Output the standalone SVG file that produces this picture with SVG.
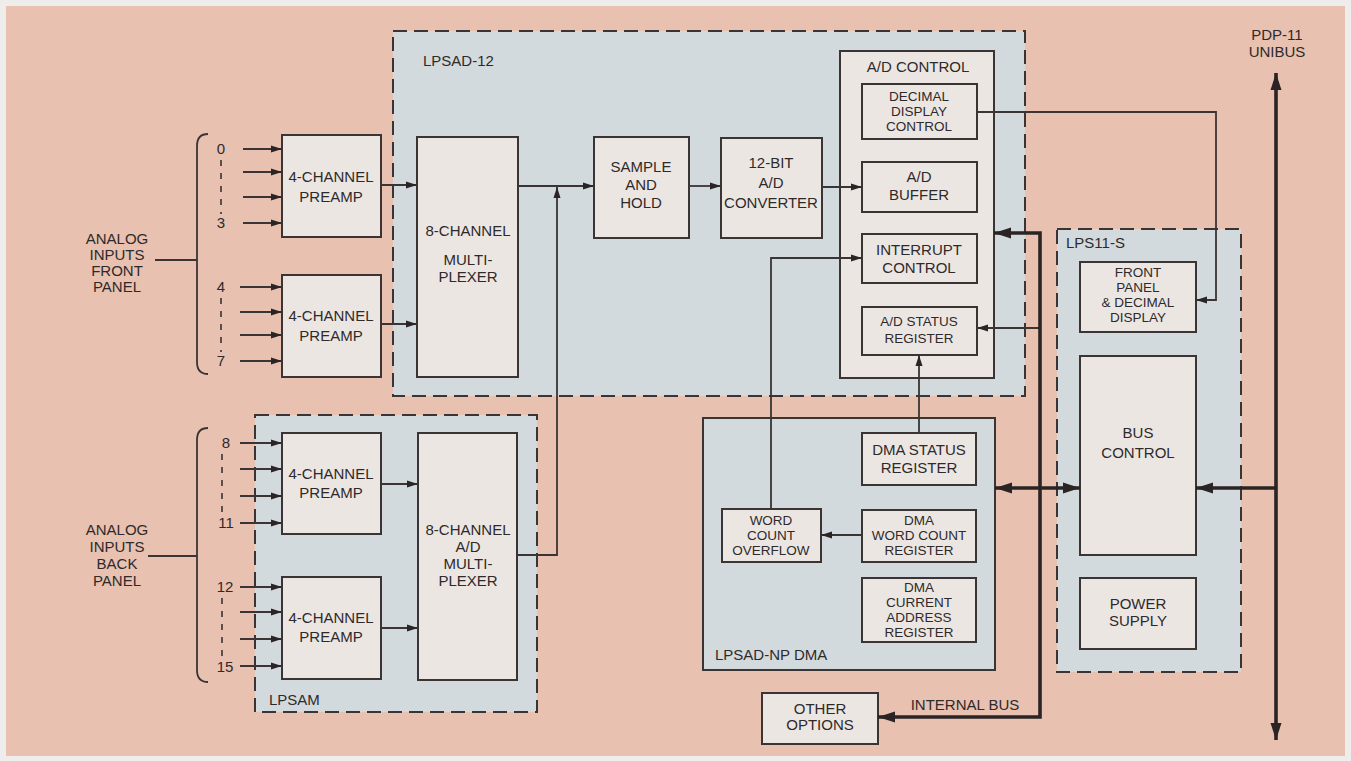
<svg xmlns="http://www.w3.org/2000/svg" width="1351" height="761" viewBox="0 0 1351 761">
<style>
text{font-family:"Liberation Sans",Arial,sans-serif;font-size:15px;fill:#2e2a2a;text-anchor:middle}
.l{text-anchor:start}
.s{font-size:13.5px}
.box{fill:#ece6e3;stroke:#3a3434;stroke-width:2}
.region{fill:#d3dadd;stroke:#3a3434;stroke-width:2;stroke-dasharray:14 7}
.solid{fill:#d3dadd;stroke:#3a3434;stroke-width:2}
.w{fill:none;stroke:#3a3434;stroke-width:1.8}
.t{fill:none;stroke:#2a2424;stroke-width:3.6}
.dl{fill:none;stroke:#3a3434;stroke-width:1.6;stroke-dasharray:6 7}
</style>
<defs>
<marker id="a" markerUnits="userSpaceOnUse" markerWidth="12" markerHeight="8" refX="11" refY="4" orient="auto-start-reverse"><path d="M0,0.5 L11,4 L0,7.5 z" fill="#2a2424"/></marker>
<marker id="b" markerUnits="userSpaceOnUse" markerWidth="18" markerHeight="12" refX="17" refY="6" orient="auto-start-reverse"><path d="M0,0.5 L17,6 L0,11.5 z" fill="#2a2424"/></marker>
</defs>
<rect x="0" y="0" width="1351" height="761" fill="#efedeb"/>
<rect x="6" y="6" width="1339" height="750" fill="#e8c1b1"/>

<g id="regions">
<rect id="lpsad12" class="region" x="393" y="31" width="632" height="365"/>
<rect id="lpsam" class="region" x="255" y="415" width="282" height="297"/>
<rect id="lps11s" class="region" x="1057" y="229" width="184" height="443"/>
<rect id="dma" class="solid" x="703" y="418" width="292" height="252"/>
<text class="l" x="423" y="66">LPSAD-12</text>
<text class="l" x="269" y="705">LPSAM</text>
<text class="l" x="1066" y="248">LPS11-S</text>
<text class="l" x="715" y="660">LPSAD-NP  DMA</text>
</g>

<g id="front-inputs">
<path class="w" d="M208,134 Q197,134 197,146 L197,362 Q197,374 208,374"/>
<line class="w" x1="155" y1="260" x2="197" y2="260"/>
<text x="117" y="244">ANALOG</text>
<text x="117" y="260">INPUTS</text>
<text x="117" y="276">FRONT</text>
<text x="117" y="292">PANEL</text>
<text x="221" y="154">0</text>
<text x="221" y="228">3</text>
<text x="221" y="292">4</text>
<text x="221" y="366">7</text>
<line class="dl" x1="221" y1="160" x2="221" y2="214"/>
<line class="dl" x1="221" y1="298" x2="221" y2="352"/>
</g>

<g id="back-inputs">
<path class="w" d="M208,428 Q197,428 197,440 L197,670 Q197,682 208,682"/>
<line class="w" x1="148" y1="556" x2="197" y2="556"/>
<text x="117" y="535">ANALOG</text>
<text x="117" y="552">INPUTS</text>
<text x="117" y="569">BACK</text>
<text x="117" y="586">PANEL</text>
<text x="226" y="448">8</text>
<text x="226" y="528">11</text>
<text x="225" y="592">12</text>
<text x="225" y="672">15</text>
<line class="dl" x1="222" y1="454" x2="222" y2="514"/>
<line class="dl" x1="222" y1="598" x2="222" y2="658"/>
</g>

<g id="preamp1"><rect class="box" x="282" y="135" width="99" height="102"/><text x="331" y="182">4-CHANNEL</text><text x="331" y="202">PREAMP</text></g>
<g id="preamp2"><rect class="box" x="282" y="275" width="99" height="102"/><text x="331" y="321">4-CHANNEL</text><text x="331" y="341">PREAMP</text></g>
<g id="preamp3"><rect class="box" x="282" y="433" width="99" height="101"/><text x="331" y="479">4-CHANNEL</text><text x="331" y="498">PREAMP</text></g>
<g id="preamp4"><rect class="box" x="282" y="577" width="99" height="102"/><text x="331" y="623">4-CHANNEL</text><text x="331" y="642">PREAMP</text></g>
<g id="mux8"><rect class="box" x="417" y="137" width="101" height="240"/><text x="468" y="236">8-CHANNEL</text><text x="468" y="265">MULTI-</text><text x="468" y="282">PLEXER</text></g>
<g id="mux8ad"><rect class="box" x="418" y="433" width="99" height="247"/><text x="468" y="535">8-CHANNEL</text><text x="468" y="552">A/D</text><text x="468" y="569">MULTI-</text><text x="468" y="586">PLEXER</text></g>
<g id="samplehold"><rect class="box" x="594" y="137" width="95" height="101"/><text x="641" y="172">SAMPLE</text><text x="641" y="190">AND</text><text x="641" y="208">HOLD</text></g>
<g id="converter"><rect class="box" x="721" y="138" width="101" height="100"/><text x="771" y="168">12-BIT</text><text x="771" y="188">A/D</text><text x="771" y="208">CONVERTER</text></g>
<g id="adcontrol"><rect class="box" x="840" y="51" width="154" height="327"/><text x="918" y="72">A/D  CONTROL</text></g>
<g id="ddc"><rect class="box" x="862" y="84" width="115" height="55"/><text class="s" x="919" y="101">DECIMAL</text><text class="s" x="919" y="116">DISPLAY</text><text class="s" x="919" y="131">CONTROL</text></g>
<g id="adbuffer"><rect class="box" x="862" y="162" width="115" height="50"/><text x="919" y="182">A/D</text><text x="919" y="200">BUFFER</text></g>
<g id="interrupt"><rect class="box" x="862" y="234" width="115" height="49"/><text x="919" y="255">INTERRUPT</text><text x="919" y="273">CONTROL</text></g>
<g id="adstatus"><rect class="box" x="862" y="307" width="115" height="48"/><text class="s" x="919" y="326">A/D STATUS</text><text class="s" x="919" y="343">REGISTER</text></g>
<g id="dmastatus"><rect class="box" x="862" y="433" width="114" height="52"/><text x="919" y="455">DMA STATUS</text><text x="919" y="473">REGISTER</text></g>
<g id="dmawc"><rect class="box" x="862" y="510" width="114" height="52"/><text class="s" x="919" y="525">DMA</text><text class="s" x="919" y="540">WORD  COUNT</text><text class="s" x="919" y="555">REGISTER</text></g>
<g id="dmaca"><rect class="box" x="862" y="578" width="114" height="64"/><text class="s" x="919" y="592">DMA</text><text class="s" x="919" y="607">CURRENT</text><text class="s" x="919" y="622">ADDRESS</text><text class="s" x="919" y="637">REGISTER</text></g>
<g id="wco"><rect class="box" x="722" y="509" width="99" height="53"/><text class="s" x="771" y="525">WORD</text><text class="s" x="771" y="540">COUNT</text><text class="s" x="771" y="555">OVERFLOW</text></g>
<g id="frontpanel"><rect class="box" x="1080" y="262" width="116" height="70"/><text class="s" x="1138" y="277">FRONT</text><text class="s" x="1138" y="292">PANEL</text><text class="s" x="1138" y="307">&amp; DECIMAL</text><text class="s" x="1138" y="322">DISPLAY</text></g>
<g id="buscontrol"><rect class="box" x="1080" y="356" width="116" height="199"/><text x="1138" y="438">BUS</text><text x="1138" y="458">CONTROL</text></g>
<g id="power"><rect class="box" x="1080" y="578" width="116" height="71"/><text x="1138" y="609">POWER</text><text x="1138" y="626">SUPPLY</text></g>
<g id="other"><rect class="box" x="762" y="693" width="116" height="51"/><text x="820" y="714">OTHER</text><text x="820" y="730">OPTIONS</text></g>
<g id="unibus-label"><text x="1277" y="40">PDP-11</text><text x="1277" y="57">UNIBUS</text></g>
<text x="965" y="710">INTERNAL BUS</text>

<g id="connectors">
<line class="w" x1="243" y1="149" x2="282" y2="149" marker-end="url(#a)"/>
<line class="w" x1="243" y1="172" x2="282" y2="172" marker-end="url(#a)"/>
<line class="w" x1="243" y1="197" x2="282" y2="197" marker-end="url(#a)"/>
<line class="w" x1="243" y1="223" x2="282" y2="223" marker-end="url(#a)"/>
<line class="w" x1="240" y1="287" x2="282" y2="287" marker-end="url(#a)"/>
<line class="w" x1="240" y1="312" x2="282" y2="312" marker-end="url(#a)"/>
<line class="w" x1="240" y1="335" x2="282" y2="335" marker-end="url(#a)"/>
<line class="w" x1="240" y1="361" x2="282" y2="361" marker-end="url(#a)"/>
<line class="w" x1="240" y1="443" x2="282" y2="443" marker-end="url(#a)"/>
<line class="w" x1="240" y1="469" x2="282" y2="469" marker-end="url(#a)"/>
<line class="w" x1="240" y1="496" x2="282" y2="496" marker-end="url(#a)"/>
<line class="w" x1="240" y1="523" x2="282" y2="523" marker-end="url(#a)"/>
<line class="w" x1="240" y1="587" x2="282" y2="587" marker-end="url(#a)"/>
<line class="w" x1="240" y1="612" x2="282" y2="612" marker-end="url(#a)"/>
<line class="w" x1="240" y1="639" x2="282" y2="639" marker-end="url(#a)"/>
<line class="w" x1="240" y1="666" x2="282" y2="666" marker-end="url(#a)"/>
<line class="w" x1="381" y1="185" x2="417" y2="185" marker-end="url(#a)"/>
<line class="w" x1="381" y1="324" x2="417" y2="324" marker-end="url(#a)"/>
<line class="w" x1="381" y1="484" x2="418" y2="484" marker-end="url(#a)"/>
<line class="w" x1="381" y1="628" x2="418" y2="628" marker-end="url(#a)"/>
<line class="w" x1="518" y1="186" x2="594" y2="186" marker-end="url(#a)"/>
<path class="w" d="M517,555 L557,555 L557,187" marker-end="url(#a)"/>
<line class="w" x1="689" y1="186" x2="721" y2="186" marker-end="url(#a)"/>
<line class="w" x1="822" y1="187" x2="862" y2="187" marker-end="url(#a)"/>
<path class="w" d="M977,112 L1216,112 L1216,300 L1196,300" marker-end="url(#a)"/>
<path class="w" d="M771,509 L771,258 L862,258" marker-end="url(#a)"/>
<line class="w" x1="862" y1="535" x2="821" y2="535" marker-end="url(#a)"/>
<line class="w" x1="919" y1="433" x2="919" y2="355" marker-end="url(#a)"/>
<line class="w" x1="1040" y1="328" x2="977" y2="328" marker-end="url(#a)"/>
<path class="t" d="M994,233 L1040,233 L1040,717 L878,717" marker-start="url(#b)" marker-end="url(#b)"/>
<line class="t" x1="995" y1="488" x2="1080" y2="488" marker-start="url(#b)" marker-end="url(#b)"/>
<line class="t" x1="1276" y1="488" x2="1196" y2="488" marker-end="url(#b)"/>
<line class="t" x1="1276" y1="740" x2="1276" y2="73" marker-start="url(#b)" marker-end="url(#b)"/>
</g>
</svg>
